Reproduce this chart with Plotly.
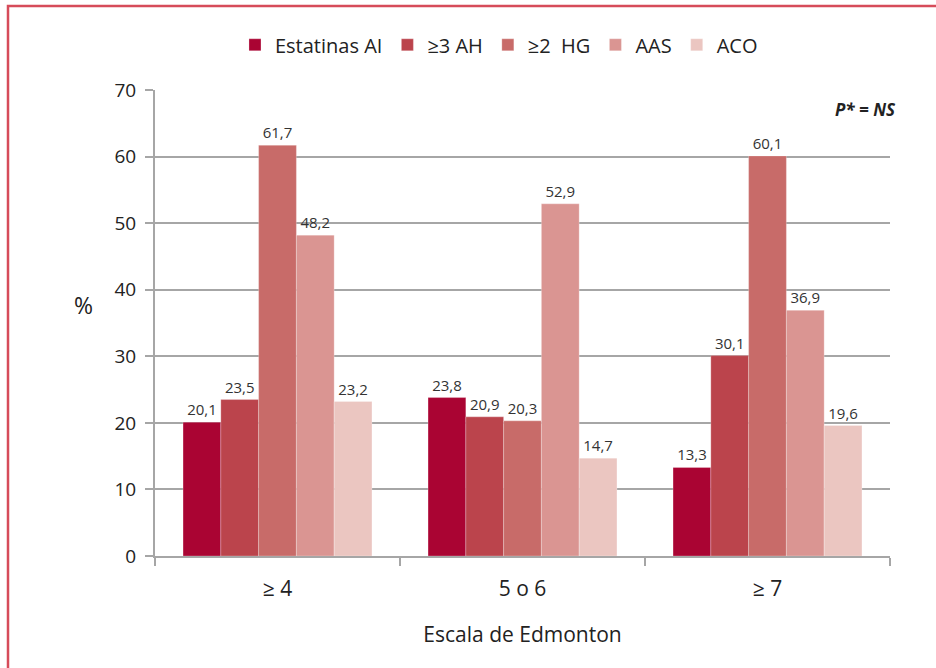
import plotly.graph_objects as go

categories = ["\u2265 4", "5 o 6", "\u2265 7"]
series_names = ["Estatinas AI", "\u22653 AH", "\u22652  HG", "AAS", "ACO"]
estatinas = [20.1, 23.8, 13.3]
ah3 = [23.5, 20.9, 30.1]
hg2 = [61.7, 20.3, 60.1]
aas = [48.2, 52.9, 36.9]
aco = [23.2, 14.7, 19.6]
series_values = [estatinas, ah3, hg2, aas, aco]
colors = ["#AA0433", "#BB444C", "#C86B69", "#DA9592", "#EBC6C1"]

FONT = "Open Sans"

fig = go.Figure()
for name, vals, col in zip(series_names, series_values, colors):
    fig.add_trace(go.Bar(
        x=categories, y=vals, name=name,
        marker=dict(color=col, line=dict(color="rgba(255,255,255,0.5)", width=0.5)),
        texttemplate="%{y:.1f}", textposition="outside",
        textfont=dict(size=15, color="#333333", family=FONT),
        cliponaxis=False,
    ))

fig.update_layout(
    width=936, height=668,
    margin=dict(l=155, r=46, t=90, b=112),
    paper_bgcolor="white", plot_bgcolor="white",
    separators=",.",
    barmode="group", bargap=0.229, bargroupgap=0,
    font=dict(family=FONT, color="#222222"),
    showlegend=True,
    legend=dict(orientation="h", x=0.468, xanchor="center", y=1.097, yanchor="middle",
                font=dict(size=20, color="#222222", family=FONT),
                itemwidth=30, tracegroupgap=0, traceorder="normal"),
    xaxis=dict(showline=True, linecolor="#A6A6A6", linewidth=2,
               ticks="outside", tickson="boundaries", ticklen=8, tickcolor="#A6A6A6", tickwidth=2,
               tickfont=dict(size=21, color="#222222", family=FONT),
               ticklabelstandoff=13,
               title=dict(text="Escala de Edmonton", font=dict(size=21, color="#222222", family=FONT), standoff=26)),
    yaxis=dict(range=[0, 70], dtick=10, showgrid=True, gridcolor="#A6A6A6", gridwidth=1.5,
               showline=True, linecolor="#A6A6A6", linewidth=2,
               ticks="outside", ticklen=8, tickcolor="#A6A6A6", tickwidth=2,
               tickfont=dict(size=19, color="#222222", family=FONT),
               ticklabelstandoff=5, zeroline=False),
    annotations=[
        dict(text="%", xref="paper", yref="paper", x=(95 - 155) / 735, xanchor="right",
             y=(556 - 305) / 466, yanchor="middle",
             showarrow=False, font=dict(size=23, color="#222222", family=FONT)),
        dict(text="<b><i>P* = NS</i></b>", xref="paper", yref="paper", x=1.011, xanchor="right",
             y=(556 - 110) / 466, yanchor="middle", showarrow=False,
             font=dict(size=17, color="#222222", family=FONT)),
    ],
    shapes=[
        dict(type="rect", xref="paper", yref="paper", x0=(8 - 155) / 735, x1=(960 - 155) / 735,
             y0=(556 - 700) / 466, y1=1 + (90 - 6) / 466,
             line=dict(color="#D64C5A", width=2.5), fillcolor="rgba(0,0,0,0)", layer="below"),
    ],
)

fig.write_html("out.html")
